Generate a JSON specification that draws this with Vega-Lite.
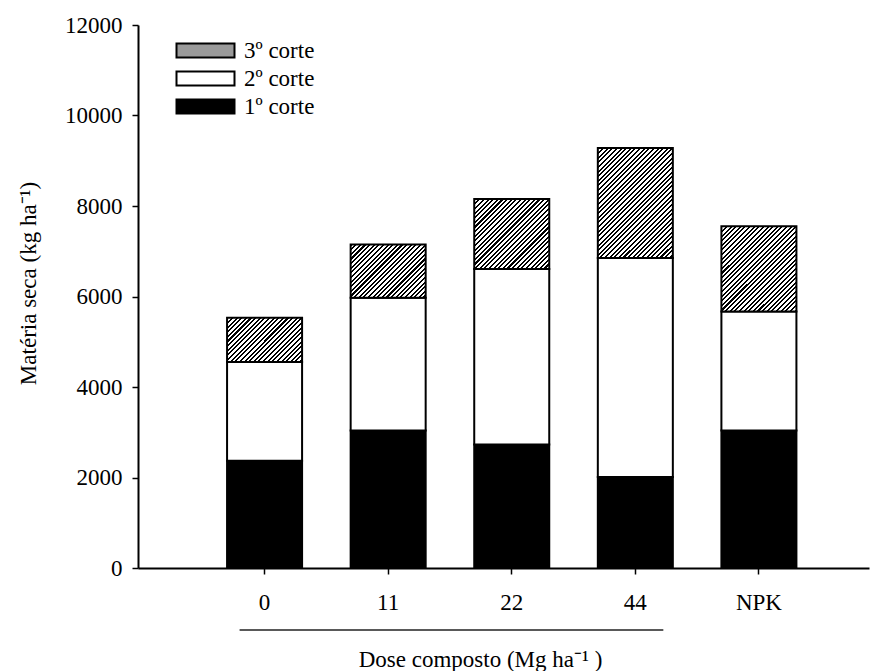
{
  "$schema": "https://vega.github.io/schema/vega-lite/v6.json",
  "autosize": {"type": "none"},
  "padding": {"left": 138, "top": 25, "right": 2, "bottom": 103},
  "width": 731,
  "height": 543,
  "background": "white",
  "config": {"view": {"stroke": null}, "font": "Liberation Serif"},
  "params": [
    {"name": "hatch", "value": [
      {"offset": 0, "color": "#000"}, {"offset": 0.011, "color": "#000"}, {"offset": 0.011, "color": "#fff"}, {"offset": 0.025, "color": "#fff"},
      {"offset": 0.025, "color": "#000"}, {"offset": 0.036, "color": "#000"}, {"offset": 0.036, "color": "#fff"}, {"offset": 0.05, "color": "#fff"},
      {"offset": 0.05, "color": "#000"}, {"offset": 0.061, "color": "#000"}, {"offset": 0.061, "color": "#fff"}, {"offset": 0.075, "color": "#fff"},
      {"offset": 0.075, "color": "#000"}, {"offset": 0.086, "color": "#000"}, {"offset": 0.086, "color": "#fff"}, {"offset": 0.1, "color": "#fff"},
      {"offset": 0.1, "color": "#000"}, {"offset": 0.111, "color": "#000"}, {"offset": 0.111, "color": "#fff"}, {"offset": 0.125, "color": "#fff"},
      {"offset": 0.125, "color": "#000"}, {"offset": 0.136, "color": "#000"}, {"offset": 0.136, "color": "#fff"}, {"offset": 0.15, "color": "#fff"},
      {"offset": 0.15, "color": "#000"}, {"offset": 0.161, "color": "#000"}, {"offset": 0.161, "color": "#fff"}, {"offset": 0.175, "color": "#fff"},
      {"offset": 0.175, "color": "#000"}, {"offset": 0.186, "color": "#000"}, {"offset": 0.186, "color": "#fff"}, {"offset": 0.2, "color": "#fff"},
      {"offset": 0.2, "color": "#000"}, {"offset": 0.211, "color": "#000"}, {"offset": 0.211, "color": "#fff"}, {"offset": 0.225, "color": "#fff"},
      {"offset": 0.225, "color": "#000"}, {"offset": 0.236, "color": "#000"}, {"offset": 0.236, "color": "#fff"}, {"offset": 0.25, "color": "#fff"},
      {"offset": 0.25, "color": "#000"}, {"offset": 0.261, "color": "#000"}, {"offset": 0.261, "color": "#fff"}, {"offset": 0.275, "color": "#fff"},
      {"offset": 0.275, "color": "#000"}, {"offset": 0.286, "color": "#000"}, {"offset": 0.286, "color": "#fff"}, {"offset": 0.3, "color": "#fff"},
      {"offset": 0.3, "color": "#000"}, {"offset": 0.311, "color": "#000"}, {"offset": 0.311, "color": "#fff"}, {"offset": 0.325, "color": "#fff"},
      {"offset": 0.325, "color": "#000"}, {"offset": 0.336, "color": "#000"}, {"offset": 0.336, "color": "#fff"}, {"offset": 0.35, "color": "#fff"},
      {"offset": 0.35, "color": "#000"}, {"offset": 0.361, "color": "#000"}, {"offset": 0.361, "color": "#fff"}, {"offset": 0.375, "color": "#fff"},
      {"offset": 0.375, "color": "#000"}, {"offset": 0.386, "color": "#000"}, {"offset": 0.386, "color": "#fff"}, {"offset": 0.4, "color": "#fff"},
      {"offset": 0.4, "color": "#000"}, {"offset": 0.411, "color": "#000"}, {"offset": 0.411, "color": "#fff"}, {"offset": 0.425, "color": "#fff"},
      {"offset": 0.425, "color": "#000"}, {"offset": 0.436, "color": "#000"}, {"offset": 0.436, "color": "#fff"}, {"offset": 0.45, "color": "#fff"},
      {"offset": 0.45, "color": "#000"}, {"offset": 0.461, "color": "#000"}, {"offset": 0.461, "color": "#fff"}, {"offset": 0.475, "color": "#fff"},
      {"offset": 0.475, "color": "#000"}, {"offset": 0.486, "color": "#000"}, {"offset": 0.486, "color": "#fff"}, {"offset": 0.5, "color": "#fff"},
      {"offset": 0.5, "color": "#000"}, {"offset": 0.511, "color": "#000"}, {"offset": 0.511, "color": "#fff"}, {"offset": 0.525, "color": "#fff"},
      {"offset": 0.525, "color": "#000"}, {"offset": 0.536, "color": "#000"}, {"offset": 0.536, "color": "#fff"}, {"offset": 0.55, "color": "#fff"},
      {"offset": 0.55, "color": "#000"}, {"offset": 0.561, "color": "#000"}, {"offset": 0.561, "color": "#fff"}, {"offset": 0.575, "color": "#fff"},
      {"offset": 0.575, "color": "#000"}, {"offset": 0.586, "color": "#000"}, {"offset": 0.586, "color": "#fff"}, {"offset": 0.6, "color": "#fff"},
      {"offset": 0.6, "color": "#000"}, {"offset": 0.611, "color": "#000"}, {"offset": 0.611, "color": "#fff"}, {"offset": 0.625, "color": "#fff"},
      {"offset": 0.625, "color": "#000"}, {"offset": 0.636, "color": "#000"}, {"offset": 0.636, "color": "#fff"}, {"offset": 0.65, "color": "#fff"},
      {"offset": 0.65, "color": "#000"}, {"offset": 0.661, "color": "#000"}, {"offset": 0.661, "color": "#fff"}, {"offset": 0.675, "color": "#fff"},
      {"offset": 0.675, "color": "#000"}, {"offset": 0.686, "color": "#000"}, {"offset": 0.686, "color": "#fff"}, {"offset": 0.7, "color": "#fff"},
      {"offset": 0.7, "color": "#000"}, {"offset": 0.711, "color": "#000"}, {"offset": 0.711, "color": "#fff"}, {"offset": 0.725, "color": "#fff"},
      {"offset": 0.725, "color": "#000"}, {"offset": 0.736, "color": "#000"}, {"offset": 0.736, "color": "#fff"}, {"offset": 0.75, "color": "#fff"},
      {"offset": 0.75, "color": "#000"}, {"offset": 0.761, "color": "#000"}, {"offset": 0.761, "color": "#fff"}, {"offset": 0.775, "color": "#fff"},
      {"offset": 0.775, "color": "#000"}, {"offset": 0.786, "color": "#000"}, {"offset": 0.786, "color": "#fff"}, {"offset": 0.8, "color": "#fff"},
      {"offset": 0.8, "color": "#000"}, {"offset": 0.811, "color": "#000"}, {"offset": 0.811, "color": "#fff"}, {"offset": 0.825, "color": "#fff"},
      {"offset": 0.825, "color": "#000"}, {"offset": 0.836, "color": "#000"}, {"offset": 0.836, "color": "#fff"}, {"offset": 0.85, "color": "#fff"},
      {"offset": 0.85, "color": "#000"}, {"offset": 0.861, "color": "#000"}, {"offset": 0.861, "color": "#fff"}, {"offset": 0.875, "color": "#fff"},
      {"offset": 0.875, "color": "#000"}, {"offset": 0.886, "color": "#000"}, {"offset": 0.886, "color": "#fff"}, {"offset": 0.9, "color": "#fff"},
      {"offset": 0.9, "color": "#000"}, {"offset": 0.911, "color": "#000"}, {"offset": 0.911, "color": "#fff"}, {"offset": 0.925, "color": "#fff"},
      {"offset": 0.925, "color": "#000"}, {"offset": 0.936, "color": "#000"}, {"offset": 0.936, "color": "#fff"}, {"offset": 0.95, "color": "#fff"},
      {"offset": 0.95, "color": "#000"}, {"offset": 0.961, "color": "#000"}, {"offset": 0.961, "color": "#fff"}, {"offset": 0.975, "color": "#fff"},
      {"offset": 0.975, "color": "#000"}, {"offset": 0.986, "color": "#000"}, {"offset": 0.986, "color": "#fff"}, {"offset": 1, "color": "#fff"}
    ]}
  ],
  "layer": [
    {
      "data": {"values": [
        {"dose": "0", "corte": "1º corte", "valor": 2370},
        {"dose": "0", "corte": "2º corte", "valor": 2180},
        {"dose": "0", "corte": "3º corte", "valor": 980},
        {"dose": "11", "corte": "1º corte", "valor": 3040},
        {"dose": "11", "corte": "2º corte", "valor": 2930},
        {"dose": "11", "corte": "3º corte", "valor": 1180},
        {"dose": "22", "corte": "1º corte", "valor": 2730},
        {"dose": "22", "corte": "2º corte", "valor": 3880},
        {"dose": "22", "corte": "3º corte", "valor": 1545},
        {"dose": "44", "corte": "1º corte", "valor": 2010},
        {"dose": "44", "corte": "2º corte", "valor": 4840},
        {"dose": "44", "corte": "3º corte", "valor": 2430},
        {"dose": "NPK", "corte": "1º corte", "valor": 3040},
        {"dose": "NPK", "corte": "2º corte", "valor": 2630},
        {"dose": "NPK", "corte": "3º corte", "valor": 1880}
      ]},
      "mark": {"type": "bar", "stroke": "black", "strokeWidth": 2, "opacity": 1},
      "encoding": {
        "x": {
          "field": "dose", "type": "nominal",
          "scale": {"domain": ["0", "11", "22", "44", "NPK"], "paddingInner": 0.393, "paddingOuter": 0.654, "align": 0.551},
          "axis": {
            "labelAngle": 0, "tickSize": 6, "tickWidth": 1.5, "tickColor": "black",
            "domainColor": "black", "domainWidth": 2,
            "labelFont": "Liberation Serif", "labelFontSize": 23, "labelColor": "black",
            "labelBaseline": "alphabetic", "labelPadding": 35,
            "title": "Dose composto (Mg ha⁻¹ )",
            "titleFont": "Liberation Serif", "titleFontSize": 23, "titleFontWeight": "normal", "titleColor": "black",
            "titleX": 342, "titleY": 98, "titleAlign": "center", "titleBaseline": "alphabetic"
          }
        },
        "y": {
          "field": "valor", "type": "quantitative", "aggregate": "sum", "stack": "zero",
          "scale": {"domain": [0, 12000], "nice": false},
          "axis": {
            "values": [0, 2000, 4000, 6000, 8000, 10000, 12000], "grid": false, "format": "d",
            "tickSize": 6, "tickWidth": 1.5, "tickColor": "black",
            "domainColor": "black", "domainWidth": 2,
            "labelFont": "Liberation Serif", "labelFontSize": 23, "labelColor": "black", "labelPadding": 10,
            "title": "Matéria seca (kg ha⁻¹)",
            "titleFont": "Liberation Serif", "titleFontSize": 23, "titleFontWeight": "normal", "titleColor": "black",
            "titleX": -110, "titleY": 258, "titleAngle": 270, "titleAlign": "center", "titleBaseline": "middle"
          }
        },
        "order": {"field": "corte", "sort": "ascending"},
        "fill": {
          "field": "corte", "type": "nominal",
          "scale": {"domain": ["3º corte", "2º corte", "1º corte"], "range": ["#9a9a9a", "#ffffff", "#000000"]},
          "condition": {
            "test": "datum.corte === '3º corte'",
            "value": {"expr": "{gradient: 'linear', x1: 0, y1: 0, x2: datum.dose === '0' ? 1.829 : datum.dose === '11' ? 1.637 : datum.dose === '22' ? 1.32 : datum.dose === '44' ? 0.783 : 1.078, y2: datum.dose === '0' ? 1.08 : datum.dose === '11' ? 1.165 : datum.dose === '22' ? 1.23 : datum.dose === '44' ? 1.148 : 1.224, stops: hatch}"}
          },
          "legend": {
            "orient": "none", "legendX": 52, "legendY": 10, "title": null,
            "symbolType": "M-2,-0.4828H2V0.4828H-2Z", "symbolSize": 841,
            "symbolStrokeColor": "black", "symbolStrokeWidth": 2, "symbolOpacity": 1,
            "labelFont": "Liberation Serif", "labelFontSize": 23, "labelColor": "black",
            "labelOffset": 23, "rowPadding": -1,
            "encoding": {"symbols": {
              "stroke": {"value": "#000000"},
              "strokeWidth": {"value": 2},
              "opacity": {"value": 1},
              "fill": {
                "condition": [
                  {"test": "datum.index === 2", "value": "#000000"},
                  {"test": "datum.index === 1", "value": "#ffffff"}
                ],
                "value": "#9a9a9a"
              }
            }}
          }
        }
      }
    },
    {
      "data": {"values": [{}]},
      "mark": {"type": "rule", "stroke": "#222222", "strokeWidth": 1.5, "yOffset": 62, "xOffset": -25, "x2Offset": 28},
      "encoding": {
        "x": {"datum": "0", "type": "nominal"},
        "x2": {"datum": "44"},
        "y": {"datum": 0, "type": "quantitative"}
      }
    }
  ]
}
